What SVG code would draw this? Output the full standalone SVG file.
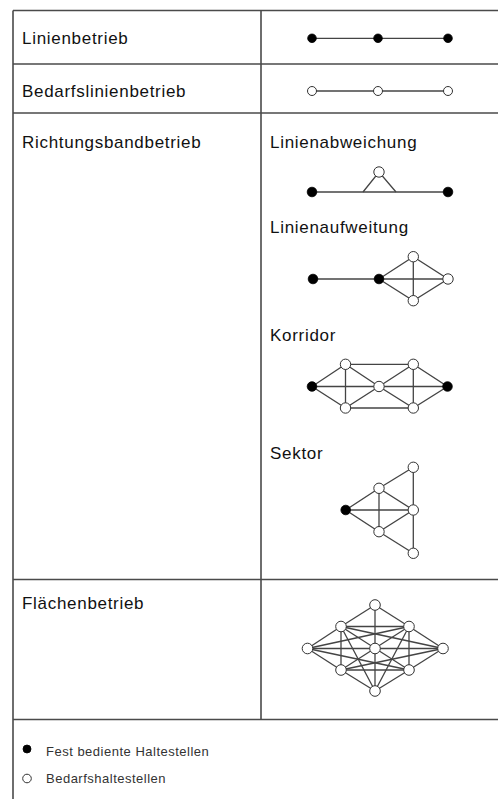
<svg xmlns="http://www.w3.org/2000/svg" width="498" height="799" viewBox="0 0 498 799">
<style>
.grid{stroke:#4a4a4a;stroke-width:1.6;fill:none}
.e{stroke:#444;stroke-width:1.3;fill:none}
.f{fill:#000;stroke:#000;stroke-width:0.8}
.o{fill:#fff;stroke:#333;stroke-width:1}
.h{font-family:"Liberation Sans",Arial,sans-serif;font-size:17px;letter-spacing:0.7px;fill:#111}
.l{font-family:"Liberation Sans",Arial,sans-serif;font-size:13px;letter-spacing:0.5px;fill:#333}
</style>
<rect width="498" height="799" fill="#fff"/>
<g id="table">
<line class="grid" x1="13" y1="10.5" x2="498" y2="10.5"/>
<line class="grid" x1="13" y1="64" x2="498" y2="64"/>
<line class="grid" x1="13" y1="113" x2="498" y2="113"/>
<line class="grid" x1="13" y1="579.5" x2="498" y2="579.5"/>
<line class="grid" x1="13" y1="719.5" x2="498" y2="719.5"/>
<line class="grid" x1="13" y1="10.5" x2="13" y2="799"/>
<line class="grid" x1="261" y1="10.5" x2="261" y2="719.5"/>
</g>
<g id="labels">
<text class="h" x="22" y="43.5">Linienbetrieb</text>
<text class="h" x="22" y="97">Bedarfslinienbetrieb</text>
<text class="h" x="22" y="147.5">Richtungsbandbetrieb</text>
<text class="h" x="270" y="147.5">Linienabweichung</text>
<text class="h" x="270" y="232.5">Linienaufweitung</text>
<text class="h" x="270" y="340.5">Korridor</text>
<text class="h" x="270" y="458.5">Sektor</text>
<text class="h" x="22" y="609">Flächenbetrieb</text>
</g>
<g id="connectors">
<line class="e" x1="312" y1="38.3" x2="448" y2="38.3"/>
<line class="e" x1="312" y1="91" x2="448" y2="91"/>
<line class="e" x1="312" y1="192" x2="448" y2="192"/>
<polyline class="e" points="363,192 379,172 396,192"/>
<line class="e" x1="313" y1="279" x2="448" y2="279"/>
<polygon class="e" points="379,279 413.3,256.7 448,279 413.3,300.7"/>
<line class="e" x1="413.3" y1="256.7" x2="413.3" y2="300.7"/>
<line class="e" x1="312" y1="386.5" x2="447.5" y2="386.5"/>
<polygon class="e" points="312,386.5 345.5,364.3 379,386.5 345.5,408"/>
<polygon class="e" points="379,386.5 413.3,364.3 447.5,386.5 413.3,408"/>
<line class="e" x1="345.5" y1="364.3" x2="413.3" y2="364.3"/>
<line class="e" x1="345.5" y1="408" x2="413.3" y2="408"/>
<line class="e" x1="345.5" y1="364.3" x2="345.5" y2="408"/>
<line class="e" x1="413.3" y1="364.3" x2="413.3" y2="408"/>
<line class="e" x1="345.7" y1="510" x2="413.3" y2="510"/>
<polygon class="e" points="345.7,510 379,488.3 413.3,510 379,531.7"/>
<line class="e" x1="379" y1="488.3" x2="379" y2="531.7"/>
<line class="e" x1="379" y1="488.3" x2="413.3" y2="467.3"/>
<line class="e" x1="379" y1="531.7" x2="413.3" y2="553.3"/>
<line class="e" x1="413.3" y1="467.3" x2="413.3" y2="553.3"/>
<line class="e" x1="375" y1="605" x2="341" y2="626.5"/>
<line class="e" x1="375" y1="605" x2="409" y2="626.5"/>
<line class="e" x1="375" y1="605" x2="375" y2="691"/>
<line class="e" x1="341" y1="626.5" x2="409" y2="626.5"/>
<line class="e" x1="341" y1="670" x2="409" y2="670"/>
<line class="e" x1="341" y1="626.5" x2="341" y2="670"/>
<line class="e" x1="409" y1="626.5" x2="409" y2="670"/>
<line class="e" x1="307.5" y1="648.5" x2="341" y2="626.5"/>
<line class="e" x1="307.5" y1="648.5" x2="341" y2="670"/>
<line class="e" x1="443" y1="648.5" x2="409" y2="626.5"/>
<line class="e" x1="443" y1="648.5" x2="409" y2="670"/>
<line class="e" x1="341" y1="670" x2="375" y2="691"/>
<line class="e" x1="409" y1="670" x2="375" y2="691"/>
<line class="e" x1="307.5" y1="648.5" x2="443" y2="648.5"/>
<line class="e" x1="307.5" y1="648.5" x2="409" y2="626.5"/>
<line class="e" x1="307.5" y1="648.5" x2="409" y2="670"/>
<line class="e" x1="443" y1="648.5" x2="341" y2="626.5"/>
<line class="e" x1="443" y1="648.5" x2="341" y2="670"/>
<line class="e" x1="341" y1="626.5" x2="375" y2="691"/>
<line class="e" x1="409" y1="626.5" x2="375" y2="691"/>
<line class="e" x1="341" y1="626.5" x2="409" y2="670"/>
<line class="e" x1="409" y1="626.5" x2="341" y2="670"/>
</g>
<g id="linienbetrieb">
<circle class="f" cx="312" cy="38.3" r="4.3"/>
<circle class="f" cx="378" cy="38.3" r="4.3"/>
<circle class="f" cx="448" cy="38.3" r="4.3"/>
</g>
<g id="bedarfslinienbetrieb">
<circle class="o" cx="312" cy="91" r="4.5"/>
<circle class="o" cx="378" cy="91" r="4.5"/>
<circle class="o" cx="448" cy="91" r="4.5"/>
</g>
<g id="linienabweichung">
<circle class="f" cx="312" cy="192" r="4.8"/>
<circle class="f" cx="448" cy="192" r="4.8"/>
<circle class="o" cx="379" cy="172" r="5.2"/>
</g>
<g id="linienaufweitung">
<circle class="f" cx="313" cy="279" r="4.8"/>
<circle class="f" cx="379" cy="279" r="4.8"/>
<circle class="o" cx="413.3" cy="256.7" r="5.2"/>
<circle class="o" cx="448" cy="279" r="5.2"/>
<circle class="o" cx="413.3" cy="300.7" r="5.2"/>
</g>
<g id="korridor">
<circle class="f" cx="312" cy="386.5" r="4.8"/>
<circle class="o" cx="345.5" cy="364.3" r="5.2"/>
<circle class="o" cx="345.5" cy="408" r="5.2"/>
<circle class="o" cx="379" cy="386.5" r="5.2"/>
<circle class="o" cx="413.3" cy="364.3" r="5.2"/>
<circle class="o" cx="413.3" cy="408" r="5.2"/>
<circle class="f" cx="447.5" cy="386.5" r="4.8"/>
</g>
<g id="sektor">
<circle class="f" cx="345.7" cy="510" r="4.8"/>
<circle class="o" cx="379" cy="488.3" r="5.2"/>
<circle class="o" cx="379" cy="531.7" r="5.2"/>
<circle class="o" cx="413.3" cy="467.3" r="5.2"/>
<circle class="o" cx="413.3" cy="510" r="5.2"/>
<circle class="o" cx="413.3" cy="553.3" r="5.2"/>
</g>
<g id="flaechenbetrieb">
<circle class="o" cx="375" cy="605" r="5.3"/>
<circle class="o" cx="341" cy="626.5" r="5.3"/>
<circle class="o" cx="409" cy="626.5" r="5.3"/>
<circle class="o" cx="307.5" cy="648.5" r="5.3"/>
<circle class="o" cx="375" cy="648.5" r="5.3"/>
<circle class="o" cx="443" cy="648.5" r="5.3"/>
<circle class="o" cx="341" cy="670" r="5.3"/>
<circle class="o" cx="409" cy="670" r="5.3"/>
<circle class="o" cx="375" cy="691" r="5.3"/>
</g>
<g id="legend">
<circle class="f" cx="27" cy="749" r="4"/>
<text class="l" x="46" y="756">Fest bediente Haltestellen</text>
<circle class="o" cx="27" cy="778.5" r="4.3"/>
<text class="l" x="46" y="783">Bedarfshaltestellen</text>
</g>
</svg>
